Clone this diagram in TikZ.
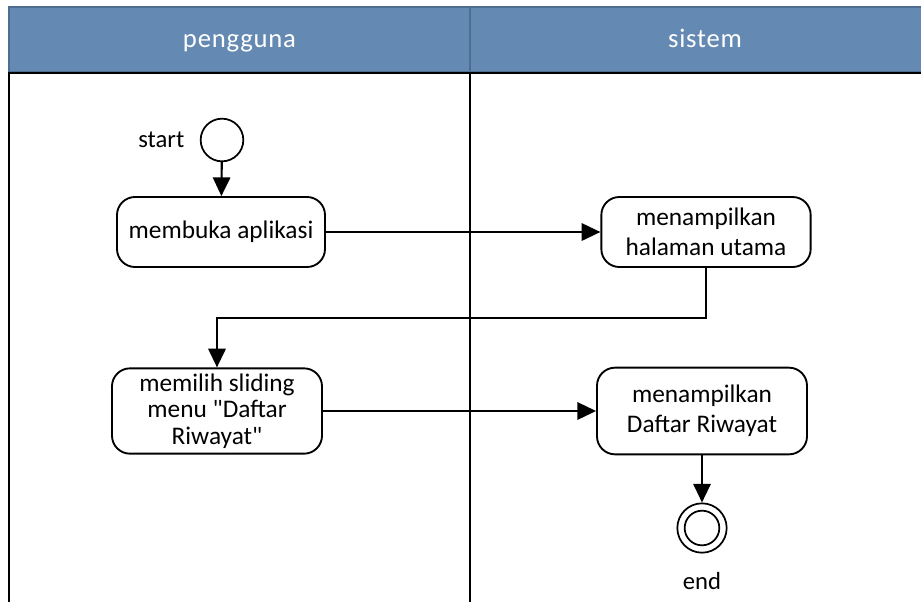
\documentclass[tikz,border=0pt]{standalone}
\usepackage{fontspec}
\setmainfont{Carlito}[Ligatures=TeXOff]
\usetikzlibrary{arrows.meta}
\definecolor{laneblue}{HTML}{6489B2}
\definecolor{laneedge}{HTML}{4E6E91}
\tikzset{
  lanehead/.style={fill=laneblue, draw=laneedge, line width=1pt},
  laneline/.style={draw=black, line width=1.5pt},
  headtext/.style={text=white, anchor=base, font=\fontsize{20}{24}\selectfont\addfontfeature{LetterSpace=3}},
  action/.style={draw=black, line width=1.4pt, rounded corners=13.5pt, fill=white,
    align=center, inner sep=2pt, font=\fontsize{19}{22.5}\selectfont},
  label/.style={font=\fontsize{18.5}{22}\selectfont},
  startdot/.style={circle, draw=black, line width=1.3pt, minimum size=32pt, inner sep=0pt},
  endring/.style={circle, draw=black, line width=1.3pt, minimum size=37pt, inner sep=0pt},
  endcore/.style={circle, draw=black, line width=1.3pt, minimum size=26pt, inner sep=0pt},
  flow/.style={draw=black, line width=1.6pt, -{Triangle[length=14pt,width=13pt]}}
}
\begin{document}
\begin{tikzpicture}[x=0.75pt, y=-0.75pt]
  \useasboundingbox (0,0) rectangle (921,601);
  \clip (0,0) rectangle (921,601);

  % swimlane headers
  \path[lanehead] (9,7) rectangle (940,72);
  \draw[laneedge, line width=1pt] (470,7) -- (470,72);
  \node[headtext] (hUser) at (239.5,47) {pengguna};
  \node[headtext] (hSys)  at (705,47) {sistem};

  % swimlane borders
  \draw[laneline] (9,73) -- (940,73);
  \draw[laneline] (9,72) -- (9,610);
  \draw[laneline] (470,72) -- (470,610);

  % start / end markers
  \node[startdot] (start) at (222,140) {};
  \node[label, anchor=east] (startlbl) at (189,140) {start};

  % activities
  \node[action, minimum width=156pt, minimum height=52.5pt] (b1) at (221,232) {membuka aplikasi};
  \node[action, minimum width=157pt, minimum height=52.5pt] (b2) at (706,232) {menampilkan\\halaman utama};
  \node[action, minimum width=157.5pt, minimum height=64pt,
        font=\fontsize{19}{20}\selectfont] (b3) at (217,411) {memilih sliding\\menu "Daftar\\Riwayat"};
  \node[action, minimum width=157.5pt, minimum height=65pt] (b4) at (702,411) {menampilkan\\Daftar Riwayat};

  \node[endring] (endc) at (702,528) {};
  \node[endcore] (endin) at (702,528) {};
  \node[label] (endlbl) at (702,581) {end};

  % control flow
  \coordinate (turn) at (0,318);
  \draw[flow] (start) -- (b1);
  \draw[flow] (b1) -- (b2);
  \draw[flow] (b2.south) -- (b2.south |- turn) -| (b3.north);
  \draw[flow] (b3) -- (b4);
  \draw[flow] (b4.south) -- (endc.north);
\end{tikzpicture}
\end{document}
